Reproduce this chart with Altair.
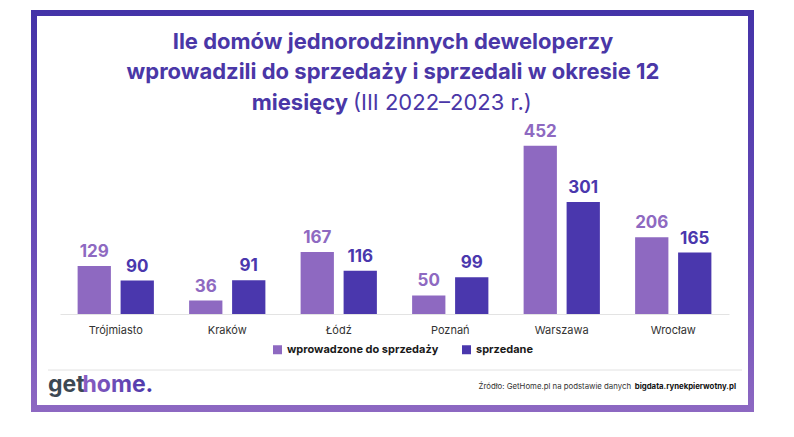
import altair as alt
import pandas as pd

cities = ["Trójmiasto", "Kraków", "Łódź", "Poznań", "Warszawa", "Wrocław"]
introduced = [129, 36, 167, 50, 452, 206]
sold = [90, 91, 116, 99, 301, 165]
series = ["wprowadzone do sprzedaży", "sprzedane"]

title_lines = ["Ile domów jednorodzinnych deweloperzy",
               "wprowadzili do sprzedaży i sprzedali w okresie 12"]
title_bold3 = "miesięcy"
title_norm3 = "(III 2022–2023 r.)"
source_norm = "Źródło: GetHome.pl na podstawie danych"
source_bold = "bigdata.rynekpierwotny.pl"

PURPLE = "#8e69c1"
DARK = "#4a37ad"
TITLE = "#4a37a7"
FONT = "Inter"

rows = []
for c, a, b in zip(cities, introduced, sold):
    rows.append({"city": c, "series": series[0], "value": a})
    rows.append({"city": c, "series": series[1], "value": b})
df = pd.DataFrame(rows)

one = alt.Data(values=[{}])

frame_grad = alt.Gradient(
    gradient="linear", x1=0, y1=0, x2=0, y2=1,
    stops=[alt.GradientStop(color="#4433a8", offset=0),
           alt.GradientStop(color="#6a4cb8", offset=0.6),
           alt.GradientStop(color="#8d68c2", offset=1)])

frame_outer = alt.Chart(one).mark_rect(fill=frame_grad).encode(
    x=alt.value(-29), x2=alt.value(694), y=alt.value(-118), y2=alt.value(284))
frame_inner = alt.Chart(one).mark_rect(fill="white").encode(
    x=alt.value(-23), x2=alt.value(688), y=alt.value(-112), y2=alt.value(277))
separator = alt.Chart(one).mark_rule(color="#e2e2e2", strokeWidth=1).encode(
    x=alt.value(-12), x2=alt.value(682), y=alt.value(242))

def txt(text, x, y, size, weight="normal", color=TITLE, align="center", baseline="middle", fill=None):
    kw = dict(text=text, fontSize=size, fontWeight=weight, align=align,
              baseline=baseline, font=FONT)
    if fill is not None:
        kw["fill"] = fill
    else:
        kw["color"] = color
    return alt.Chart(one).mark_text(**kw).encode(x=alt.value(x), y=alt.value(y))

t1 = txt(title_lines[0], 333, -86, 22, "bold")
t2 = txt(title_lines[1], 333, -56, 22, "bold")
t3a = txt(title_bold3, 288, -25, 22, "bold", align="right")
t3b = txt(title_norm3, 293, -25, 22, "normal", align="left")

logo_grad = alt.Gradient(
    gradient="linear", x1=0, y1=0, x2=1, y2=0,
    stops=[alt.GradientStop(color="#8a5fc2", offset=0),
           alt.GradientStop(color="#4a35a8", offset=1)])
logo_a = txt("get", -12, 264, 23, "bold", color="#3d4853", align="left", baseline="alphabetic")
logo_b = txt("home.", 22.5, 264, 23, "bold", align="left", baseline="alphabetic", fill=logo_grad)

src_b = txt(source_bold, 676, 259, 7.8, "bold", color="#111111", align="right")
src_n = txt(source_norm, 571, 259, 7.8, "normal", color="#333333", align="right")

base = alt.Chart(df).encode(
    x=alt.X("city:N", sort=cities,
            scale=alt.Scale(paddingInner=0.316, paddingOuter=0.158),
            axis=alt.Axis(title=None, labelAngle=0, ticks=False, domainColor="#e3e3e3",
                          labelFontSize=11, labelColor="#333333", labelFont=FONT,
                          labelPadding=10, grid=False, zindex=1)),
    xOffset=alt.XOffset("series:N", sort=series,
                        scale=alt.Scale(paddingInner=0.2256, paddingOuter=0)),
    y=alt.Y("value:Q", scale=alt.Scale(domain=[0, 500]), axis=None),
)

color = alt.Color("series:N", sort=series,
                  scale=alt.Scale(domain=series, range=[PURPLE, DARK]),
                  legend=alt.Legend(title=None, orient="none", legendX=212, legendY=216,
                                    direction="horizontal", symbolType="square",
                                    symbolSize=81, symbolStrokeWidth=0, labelLimit=400,
                                    labelFont=FONT, labelFontSize=11, labelFontWeight="bold",
                                    labelColor="#1a1a1a", columnPadding=22, labelOffset=4,
                                    zindex=1))

bars = base.mark_bar().encode(color=color)
labels = base.mark_text(dy=-9, baseline="alphabetic", fontSize=17, fontWeight="bold",
                        font=FONT).encode(text="value:Q", color=color)

chart = alt.layer(
    frame_outer, frame_inner, separator, t1, t2, t3a, t3b,
    bars, labels, logo_a, logo_b, src_n, src_b
).properties(
    width=669, height=186,
    autosize=alt.AutoSizeParams(type="none"),
    padding={"left": 52, "top": 120, "right": 57, "bottom": 115},
    background="white",
).configure_view(stroke=None)

chart.save("out.html", embed_options={"renderer": "svg", "actions": False})
